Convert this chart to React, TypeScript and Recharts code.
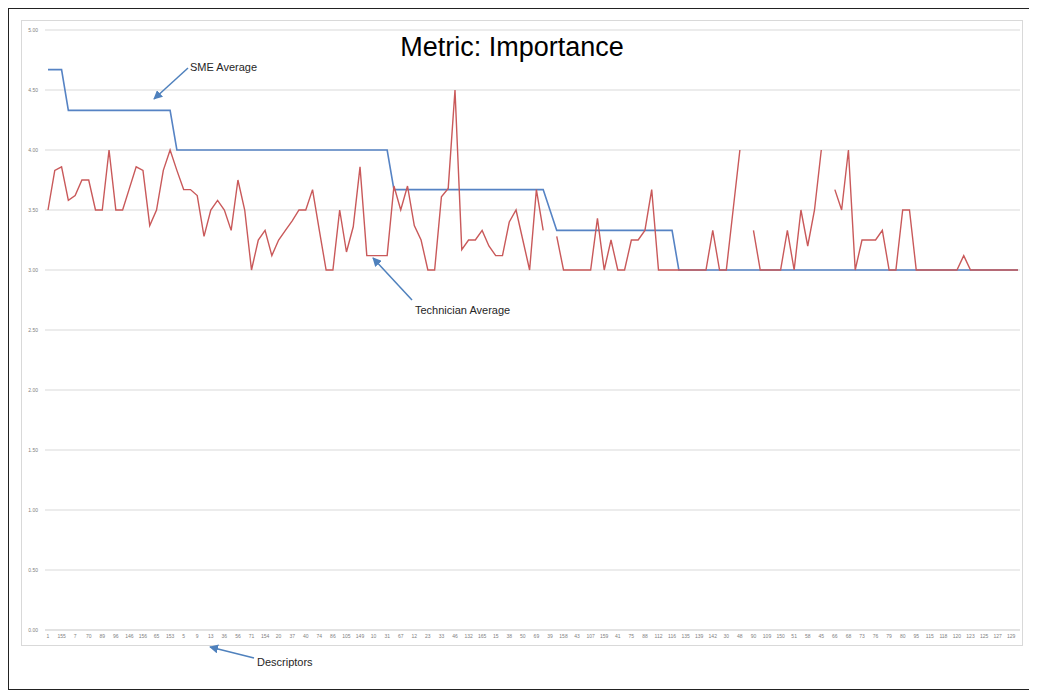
import { LineChart, Line, XAxis, YAxis, CartesianGrid } from 'recharts';

// descriptor ids shown under every other point
const descriptorLabels = [
  '1', '155', '7', '70', '89', '96', '146', '156', '65', '153',
  '5', '9', '13', '36', '56', '71', '154', '20', '37', '40',
  '74', '86', '105', '149', '10', '31', '67', '12', '23', '33',
  '46', '132', '165', '15', '38', '50', '69', '39', '158', '43',
  '107', '159', '41', '75', '88', '112', '116', '135', '139', '142',
  '30', '48', '90', '109', '150', '51', '58', '45', '66', '68',
  '73', '76', '79', '80', '95', '115', '118', '120', '123', '125',
  '127', '129',
];

const techAvg: (number | null)[] = [
  3.5, 3.83, 3.86, 3.58, 3.62, 3.75, 3.75, 3.5, 3.5, 4.0,
  3.5, 3.5, 3.68, 3.86, 3.83, 3.37, 3.5, 3.83, 4.0, 3.83,
  3.67, 3.67, 3.62, 3.28, 3.5, 3.58, 3.5, 3.33, 3.75, 3.5,
  3.0, 3.25, 3.33, 3.12, 3.25, 3.33, 3.41, 3.5, 3.5, 3.67,
  3.33, 3.0, 3.0, 3.5, 3.15, 3.36, 3.86, 3.12, 3.12, 3.12,
  3.12, 3.7, 3.5, 3.7, 3.37, 3.25, 3.0, 3.0, 3.61, 3.68,
  4.5, 3.17, 3.25, 3.25, 3.33, 3.2, 3.12, 3.12, 3.4, 3.5,
  3.25, 3.0, 3.67, 3.33, null, 3.28, 3.0, 3.0, 3.0, 3.0,
  3.0, 3.43, 3.0, 3.25, 3.0, 3.0, 3.25, 3.25, 3.33, 3.67,
  3.0, 3.0, 3.0, 3.0, 3.0, 3.0, 3.0, 3.0, 3.33, 3.0,
  3.0, 3.5, 4.0, null, 3.33, 3.0, 3.0, 3.0, 3.0, 3.33,
  3.0, 3.5, 3.2, 3.5, 4.0, null, 3.67, 3.5, 4.0, 3.0,
  3.25, 3.25, 3.25, 3.33, 3.0, 3.0, 3.5, 3.5, 3.0, 3.0,
  3.0, 3.0, 3.0, 3.0, 3.0, 3.12, 3.0, 3.0, 3.0, 3.0,
  3.0, 3.0, 3.0, 3.0,
];

const smeAvg = [
  4.67, 4.67, 4.67, 4.33, 4.33, 4.33, 4.33, 4.33, 4.33, 4.33,
  4.33, 4.33, 4.33, 4.33, 4.33, 4.33, 4.33, 4.33, 4.33, 4.0,
  4.0, 4.0, 4.0, 4.0, 4.0, 4.0, 4.0, 4.0, 4.0, 4.0,
  4.0, 4.0, 4.0, 4.0, 4.0, 4.0, 4.0, 4.0, 4.0, 4.0,
  4.0, 4.0, 4.0, 4.0, 4.0, 4.0, 4.0, 4.0, 4.0, 4.0,
  4.0, 3.67, 3.67, 3.67, 3.67, 3.67, 3.67, 3.67, 3.67, 3.67,
  3.67, 3.67, 3.67, 3.67, 3.67, 3.67, 3.67, 3.67, 3.67, 3.67,
  3.67, 3.67, 3.67, 3.67, 3.5, 3.33, 3.33, 3.33, 3.33, 3.33,
  3.33, 3.33, 3.33, 3.33, 3.33, 3.33, 3.33, 3.33, 3.33, 3.33,
  3.33, 3.33, 3.33, 3.0, 3.0, 3.0, 3.0, 3.0, 3.0, 3.0,
  3.0, 3.0, 3.0, 3.0, 3.0, 3.0, 3.0, 3.0, 3.0, 3.0,
  3.0, 3.0, 3.0, 3.0, 3.0, 3.0, 3.0, 3.0, 3.0, 3.0,
  3.0, 3.0, 3.0, 3.0, 3.0, 3.0, 3.0, 3.0, 3.0, 3.0,
  3.0, 3.0, 3.0, 3.0, 3.0, 3.0, 3.0, 3.0, 3.0, 3.0,
  3.0, 3.0, 3.0, 3.0,
];

const yTicks = [0, 0.5, 1, 1.5, 2, 2.5, 3, 3.5, 4, 4.5, 5];

const data = techAvg.map((t, i) => ({ idx: i, tech: t, sme: smeAvg[i] }));

const BLUE = '#5683C4';
const RED = '#C9595A';
const ARROW = '#4F81BD';
const FONT = '"Liberation Sans", Arial, sans-serif';

export default function App() {
  return (
    <div style={{ position: 'relative', width: 1022, height: 682, fontFamily: FONT }}>
      <div
        style={{
          position: 'absolute', left: 0, top: 0, width: 1022, height: 682,
          boxSizing: 'border-box', border: '1px solid #222',
        }}
      />
      <div
        style={{
          position: 'absolute', left: 13, top: 12, width: 1002, height: 626,
          boxSizing: 'border-box', border: '1px solid #d9d9d9',
        }}
      />
      <div style={{ position: 'absolute', left: 13, top: 12 }}>
        <LineChart width={1002} height={626} data={data} margin={{ top: 10, right: 3, left: 0, bottom: 4 }}>
          <CartesianGrid vertical={false} stroke="#d9d9d9" />
          <XAxis
            dataKey="idx"
            type="category"
            interval={1}
            tickFormatter={(v) => descriptorLabels[Number(v) / 2] ?? ''}
            tick={{ fontSize: 5, fill: '#7f7f7f', fontFamily: FONT }}
            tickLine={false}
            tickSize={0}
            tickMargin={4}
            axisLine={{ stroke: '#d9d9d9' }}
            height={12}
            padding={{ left: 3, right: 2 }}
          />
          <YAxis
            domain={[0, 5]}
            ticks={yTicks}
            tickFormatter={(v) => Number(v).toFixed(2)}
            width={24}
            tick={{ fontSize: 5, fill: '#7f7f7f', fontFamily: FONT }}
            tickLine={false}
            tickSize={0}
            tickMargin={7}
            axisLine={false}
          />
          <Line type="linear" dataKey="sme" stroke={BLUE} strokeWidth={1.6} dot={false} isAnimationActive={false} />
          <Line type="linear" dataKey="tech" stroke={RED} strokeWidth={1.4} dot={false} isAnimationActive={false} />
        </LineChart>
      </div>
      <svg
        width={1037}
        height={691}
        style={{ position: 'absolute', left: -8, top: -8, pointerEvents: 'none' }}
      >
        <defs>
          <marker id="arrowHead" viewBox="0 0 10 10" refX="9" refY="5" markerWidth="9" markerHeight="9" markerUnits="userSpaceOnUse" orient="auto">
            <path d="M0,0 L10,5 L0,10 z" fill={ARROW} />
          </marker>
        </defs>
        <text x={512} y={56} textAnchor="middle" fontSize={27} fill="#000" fontFamily={FONT}>
          Metric: Importance
        </text>

        <text x={190} y={71} fontSize={11} fill="#262626" fontFamily={FONT}>SME Average</text>
        <line x1={188} y1={68} x2={154} y2={99} stroke={ARROW} strokeWidth={1.5} markerEnd="url(#arrowHead)" />

        <text x={415} y={314} fontSize={11} fill="#262626" fontFamily={FONT}>Technician Average</text>
        <line x1={412} y1={300} x2={373} y2={258} stroke={ARROW} strokeWidth={1.5} markerEnd="url(#arrowHead)" />

        <text x={257} y={666} fontSize={11} fill="#262626" fontFamily={FONT}>Descriptors</text>
        <line x1={254} y1={658} x2={210} y2={647} stroke={ARROW} strokeWidth={1.5} markerEnd="url(#arrowHead)" />
      </svg>
    </div>
  );
}
